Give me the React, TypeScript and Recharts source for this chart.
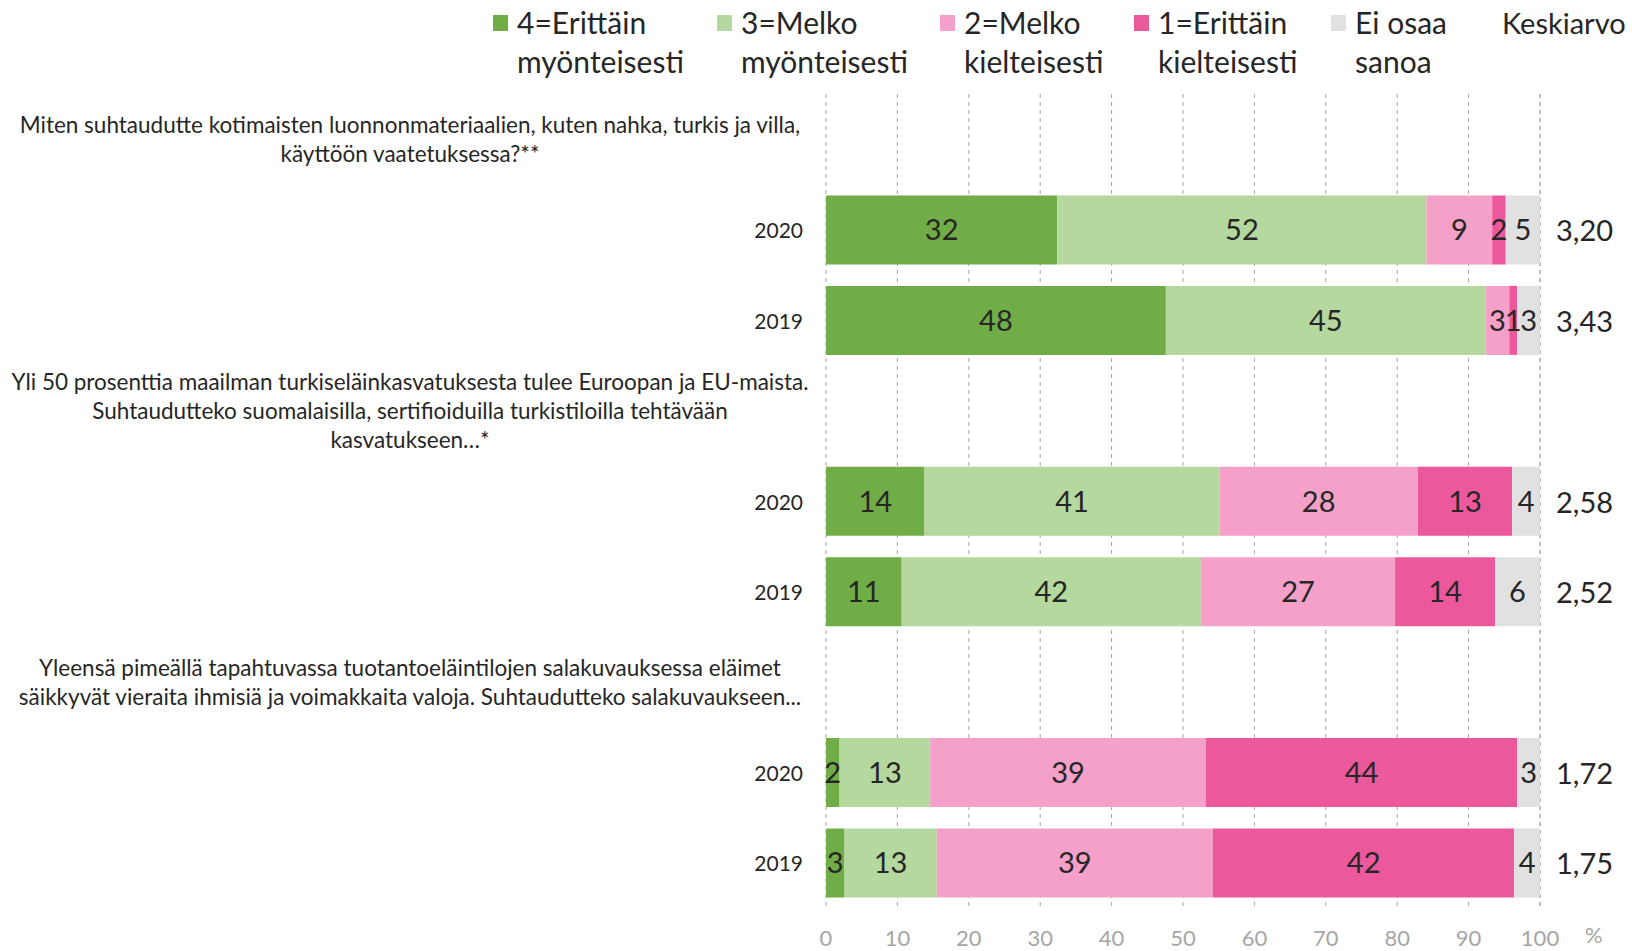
import { BarChart, Bar, XAxis, YAxis, CartesianGrid, LabelList } from 'recharts';

const questions: string[][] = [
  [
    'Miten suhtaudutte kotimaisten luonnonmateriaalien, kuten nahka, turkis ja villa,',
    'käyttöön vaatetuksessa?**',
  ],
  [
    'Yli 50 prosenttia maailman turkiseläinkasvatuksesta tulee Euroopan ja EU-maista.',
    'Suhtaudutteko suomalaisilla, sertifioiduilla turkistiloilla tehtävään',
    'kasvatukseen…*',
  ],
  [
    'Yleensä pimeällä tapahtuvassa tuotantoeläintilojen salakuvauksessa eläimet',
    'säikkyvät vieraita ihmisiä ja voimakkaita valoja. Suhtaudutteko salakuvaukseen...',
  ],
];

const years = ['2020', '2019'];

// order: q1 2020, q1 2019, q2 2020, q2 2019, q3 2020, q3 2019
const veryPositive = [32.4, 47.6, 13.8, 10.6, 1.9, 2.6];
const fairlyPositive = [51.7, 44.8, 41.3, 41.9, 12.7, 12.9];
const fairlyNegative = [9.2, 3.3, 27.8, 27.2, 38.6, 38.7];
const veryNegative = [1.9, 1.1, 13.2, 14.0, 43.6, 42.2];
const cantSay = [4.8, 3.2, 3.9, 6.3, 3.2, 3.6];
const means = [3.2, 3.43, 2.58, 2.52, 1.72, 1.75];

const xTicks = [0, 10, 20, 30, 40, 50, 60, 70, 80, 90, 100];

const legendItems = [
  { label: ['4=Erittäin', 'myönteisesti'], color: '#70AD47', x: 493 },
  { label: ['3=Melko', 'myönteisesti'], color: '#B5D89F', x: 717 },
  { label: ['2=Melko', 'kielteisesti'], color: '#F4A0C8', x: 940 },
  { label: ['1=Erittäin', 'kielteisesti'], color: '#EC589C', x: 1134 },
  { label: ['Ei osaa', 'sanoa'], color: '#E1E1E1', x: 1331 },
];

type Row = {
  key: string;
  question?: number;
  year?: string;
  v4?: number;
  v3?: number;
  v2?: number;
  v1?: number;
  eos?: number;
  mean?: number;
};

const rows: Row[] = [];
questions.forEach((_, qi) => {
  rows.push({ key: `q${qi}`, question: qi });
  years.forEach((year, yi) => {
    const i = qi * 2 + yi;
    rows.push({
      key: `q${qi}-${year}`,
      year,
      v4: veryPositive[i],
      v3: fairlyPositive[i],
      v2: fairlyNegative[i],
      v1: veryNegative[i],
      eos: cantSay[i],
      mean: means[i],
    });
  });
});

const FONT = 'Lato, "Open Sans", sans-serif';
const TEXT = '#262626';

const findRow = (key: string) => rows.find((r) => r.key === key);

const LeftTick = (props: any) => {
  const { y, payload } = props;
  const row = findRow(payload.value);
  if (!row) return null;
  if (row.question !== undefined) {
    const lines = questions[row.question];
    return (
      <text textAnchor="middle" fontSize={22.5} fill={TEXT} fontFamily={FONT}>
        {lines.map((line, k) => (
          <tspan key={k} x={410} y={y + (k - (lines.length - 1) / 2) * 29} dominantBaseline="central">
            {line}
          </tspan>
        ))}
      </text>
    );
  }
  return (
    <text x={803} y={y} textAnchor="end" dominantBaseline="central" fontSize={21} fill={TEXT} fontFamily={FONT}>
      {row.year}
    </text>
  );
};

const RightTick = (props: any) => {
  const { x, y, payload } = props;
  const row = findRow(payload.value);
  if (!row || row.mean === undefined) return null;
  return (
    <text x={x + 8} y={y} textAnchor="start" dominantBaseline="central" fontSize={29} fill={TEXT} fontFamily={FONT}>
      {row.mean.toFixed(2).replace('.', ',')}
    </text>
  );
};

const fmt = (v: any) => (v === undefined || v === null ? '' : String(Math.round(Number(v))));

const series = [
  { key: 'v4', color: '#70AD47' },
  { key: 'v3', color: '#B5D89F' },
  { key: 'v2', color: '#F4A0C8' },
  { key: 'v1', color: '#EC589C' },
  { key: 'eos', color: '#E1E1E1' },
];

export default function App() {
  return (
    <div style={{ position: 'absolute', left: 0, top: 0, width: 1632, height: 951, fontFamily: FONT, background: '#fff' }}>
      <BarChart
        width={1632}
        height={951}
        data={rows}
        layout="vertical"
        margin={{ top: 94, right: 0, bottom: 0, left: 0 }}
        barSize={69}
      >
        <CartesianGrid horizontal={false} vertical stroke="#A6A6A6" strokeDasharray="4 4" />
        <XAxis
          type="number"
          domain={[0, 100]}
          ticks={xTicks}
          axisLine={false}
          tickLine={false}
          height={43}
          tickMargin={16}
          tick={{ fill: '#A6A6A6', fontSize: 22, fontFamily: FONT }}
          interval={0}
        />
        <YAxis
          type="category"
          dataKey="key"
          width={826}
          axisLine={false}
          tickLine={false}
          tick={<LeftTick />}
          interval={0}
        />
        <YAxis
          yAxisId="r"
          orientation="right"
          type="category"
          dataKey="key"
          width={92}
          axisLine={false}
          tickLine={false}
          tick={<RightTick />}
          interval={0}
        />
        {series.map((s) => (
          <Bar key={s.key} dataKey={s.key} stackId="a" fill={s.color} isAnimationActive={false}>
            <LabelList
              dataKey={s.key}
              position="center"
              formatter={fmt}
              fill={TEXT}
              fontSize={29}
              fontFamily={FONT}
            />
          </Bar>
        ))}
      </BarChart>

      {legendItems.map((item) => (
        <div key={item.label[0]} style={{ position: 'absolute', left: item.x, top: 0 }}>
          <div style={{ position: 'absolute', left: 0, top: 15, width: 15, height: 16, background: item.color }} />
          <div
            style={{
              position: 'absolute',
              left: 24,
              top: 3,
              fontSize: 30,
              lineHeight: '39px',
              color: TEXT,
              whiteSpace: 'nowrap',
            }}
          >
            {item.label[0]}
            <br />
            {item.label[1]}
          </div>
        </div>
      ))}
      <div style={{ position: 'absolute', left: 1502, top: 3, fontSize: 29, lineHeight: '39px', color: TEXT }}>
        Keskiarvo
      </div>
      <div style={{ position: 'absolute', left: 1585, top: 920, fontSize: 22, lineHeight: '30px', color: '#A6A6A6' }}>
        %
      </div>
    </div>
  );
}
